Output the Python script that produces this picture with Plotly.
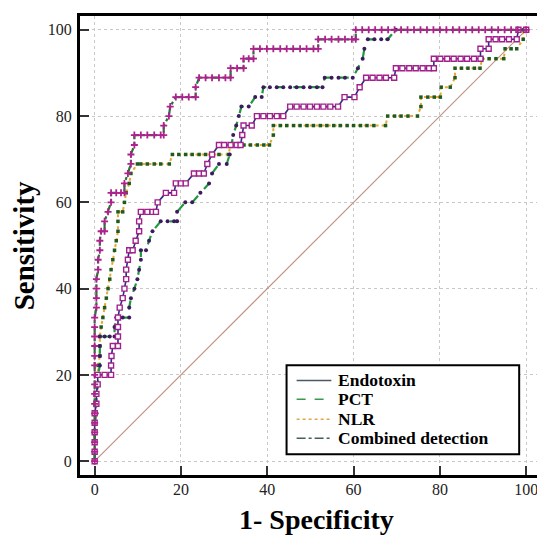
import plotly.graph_objects as go

# ---- data ----
endo_x = [0,0,0,0,0,0,0.4,0.4,0.7,0.7,2.3,3.8,3.8,3.9,4.2,5.4,5.4,5.4,5.4,5.8,6.5,6.9,7.3,7.3,7.7,8.0,8.8,9.5,10.3,10.3,10.7,12.2,13.4,14.2,14.6,16.5,18.4,18.8,20.0,21.1,23.0,24.2,25.3,26.1,27.2,28.8,30.0,31.5,32.9,33.8,34.2,34.5,36.4,37.6,39.1,40.6,42.2,43.7,45.3,46.8,48.4,49.9,51.5,53.0,54.6,56.4,57.9,60.2,61.4,62.9,64.4,66.0,67.5,69.4,69.8,71.3,72.9,74.4,76.0,77.5,78.6,78.6,80.1,81.7,83.2,84.8,86.3,87.9,89.4,89.4,91.3,91.3,92.9,94.4,96.0,97.8,98.2,100]
endo_y = [0,2.2,4.4,6.7,8.9,11.1,13.3,15.6,17.8,20,20,20,22.2,24.4,26.7,26.7,28.9,31.1,33.3,35.6,37.8,40,42.2,44.4,46.7,48.9,48.9,51.1,53.3,55.6,57.8,57.8,57.8,57.8,60,62.2,62.2,64.4,64.4,64.4,66.7,66.7,66.7,68.9,71.1,73.3,73.3,73.3,73.3,73.3,75.6,77.8,77.8,80,80,80,80,80,82.2,82.2,82.2,82.2,82.2,82.2,82.2,82.2,84.4,84.4,86.7,88.9,88.9,88.9,88.9,88.9,91.1,91.1,91.1,91.1,91.1,91.1,91.1,93.3,93.3,93.3,93.3,93.3,93.3,93.3,93.3,95.6,95.6,97.8,97.8,97.8,97.8,97.8,100,100]

pct_x = [0,0,0,0,0,0.4,0.4,0.4,0.8,0.8,1.2,1.2,1.2,1.2,2.3,3.5,4.6,4.6,5.0,6.5,8.0,8.0,8.4,9.2,9.9,10.3,10.7,10.7,11.9,12.6,13.4,15.3,16.9,18.4,19.1,19.1,21.0,22.6,24.5,26.5,27.2,28.8,30.6,31.3,31.7,32.1,32.8,33.4,34.0,35.7,37.2,38.7,39.1,40.6,42.2,43.7,45.3,46.8,48.4,49.9,51.5,52.8,53.3,54.9,56.5,58.0,59.8,61.0,62.1,62.5,63.3,64.8,66.4,67.9,69.8,100]
pct_y = [0,2.2,4.4,6.7,8.9,11.1,13.3,15.6,17.8,20,22.2,24.4,26.7,28.9,28.9,28.9,28.9,31.1,33.3,33.3,33.3,35.6,37.8,40,42.2,44.4,46.7,48.9,48.9,51.1,53.3,55.6,55.6,55.6,55.6,57.8,60,60,62.2,64.4,66.7,68.9,68.9,71.1,73.3,75.6,77.8,80,82.2,82.2,84.4,84.4,86.7,86.7,86.7,86.7,86.7,86.7,86.7,86.7,86.7,86.7,88.9,88.9,88.9,88.9,88.9,91.1,93.3,95.6,97.8,97.8,97.8,97.8,100,100]

nlr_x = [0,0,0,0,0,0.4,0.4,0.4,0.8,0.8,0.8,1.2,1.2,1.2,1.5,1.9,2.3,2.7,3.1,3.5,3.8,4.2,4.6,5.0,5.4,5.4,5.4,6.5,6.9,7.3,8.0,8.4,9.9,10.7,12.2,13.8,15.3,17.3,18.0,19.5,21.1,22.6,24.2,25.7,27.3,28.8,31.0,31.5,33.0,34.6,36.1,37.7,39.2,40.5,41.4,41.4,43.0,44.5,46.1,47.6,49.2,50.7,52.3,53.8,55.4,56.9,58.5,60.0,61.6,63.1,64.7,67.4,67.9,69.5,71.0,72.6,74.8,75.6,75.6,77.2,78.7,80.1,80.3,82.4,83.5,83.5,85.0,86.5,88.0,89.3,89.8,91.4,93.0,94.8,95.1,96.5,97.8,99.3,99.3,100]
nlr_y = [0,2.2,4.4,6.7,8.9,11.1,13.3,15.6,17.8,20,22.2,24.4,26.7,28.9,31.1,33.3,35.6,37.8,40,42.2,44.4,46.7,48.9,51.1,53.3,55.6,57.8,57.8,60,62.2,64.4,66.7,68.9,68.9,68.9,68.9,68.9,68.9,71.1,71.1,71.1,71.1,71.1,71.1,71.1,71.1,71.1,73.3,73.3,73.3,73.3,73.3,73.3,73.3,75.6,77.8,77.8,77.8,77.8,77.8,77.8,77.8,77.8,77.8,77.8,77.8,77.8,77.8,77.8,77.8,77.8,77.8,80,80,80,80,80,82.2,84.4,84.4,84.4,84.4,86.7,86.7,88.9,91.1,91.1,91.1,91.1,91.1,93.3,93.3,93.3,93.3,95.6,95.6,95.6,97.8,100,100]

comb_x = [0,0,0,0,0,0,0,0,0,0,0,0,0,0,0,0,0.4,0.4,0.4,0.4,0.8,0.8,1.2,1.2,1.5,2.3,2.3,3.1,3.8,3.8,5.0,6.1,6.9,6.9,7.7,8.4,8.4,9.2,9.2,10.7,12.2,13.8,15.3,16.0,16.0,17.2,17.5,18.8,20.3,21.8,23.4,23.4,24.2,25.7,27.2,28.8,30.3,31.5,31.5,33.0,34.5,34.5,35.7,36.8,36.8,38.3,39.9,41.4,43.0,44.5,46.0,47.6,49.1,50.7,51.8,51.8,53.4,54.9,56.5,58.0,59.6,60.5,60.5,62.0,63.5,65.0,66.5,68.0,69.5,71.0,72.5,74.0,75.5,77.0,78.5,80.0,81.5,83.0,84.5,86.0,87.5,89.0,90.5,92.0,93.5,95.0,96.5,98.0,100]
comb_y = [0,2.2,4.4,6.7,8.9,11.1,13.3,15.6,17.8,20,22.2,24.4,26.7,28.9,31.1,33.3,35.6,37.8,40,42.2,44.4,46.7,48.9,51.1,53.3,53.3,55.6,57.8,60,62.2,62.2,62.2,62.2,64.4,66.7,68.9,71.1,73.3,75.6,75.6,75.6,75.6,75.6,75.6,77.8,80,82.2,84.4,84.4,84.4,84.4,86.7,88.9,88.9,88.9,88.9,88.9,88.9,91.1,91.1,91.1,93.3,93.3,93.3,95.6,95.6,95.6,95.6,95.6,95.6,95.6,95.6,95.6,95.6,95.6,97.8,97.8,97.8,97.8,97.8,97.8,97.8,100,100,100,100,100,100,100,100,100,100,100,100,100,100,100,100,100,100,100,100,100,100,100,100,100,100,100]

diag_x = [0, 100]
diag_y = [0, 100]

legend_names = ["Endotoxin", "PCT", "NLR", "Combined detection"]
tick_vals = [0, 20, 40, 60, 80, 100]

FONT = "Liberation Serif"

fig = go.Figure()

fig.add_trace(go.Scatter(x=diag_x, y=diag_y, mode="lines",
                         line=dict(color="#c09483", width=1.2), showlegend=False, hoverinfo="skip"))
fig.add_trace(go.Scatter(x=nlr_x, y=nlr_y, mode="lines+markers", name=legend_names[2],
                         line=dict(color="#e8a830", width=2, dash="dot"),
                         marker=dict(symbol="square", size=3.5, color="#1f5a1f"),
                         showlegend=False))
fig.add_trace(go.Scatter(x=pct_x, y=pct_y, mode="lines+markers", name=legend_names[1],
                         line=dict(color="#1e9a3c", width=2.2, dash="dash"),
                         marker=dict(symbol="circle", size=4, color="#3b1a5e"),
                         showlegend=False))
fig.add_trace(go.Scatter(x=endo_x, y=endo_y, mode="lines+markers", name=legend_names[0],
                         line=dict(color="#25307f", width=1.6),
                         marker=dict(symbol="square", size=5, color="white",
                                     line=dict(color="#a3208c", width=1.4)),
                         showlegend=False))
fig.add_trace(go.Scatter(x=comb_x, y=comb_y, mode="lines+markers", name=legend_names[3],
                         line=dict(color="#1d7a30", width=2.2, dash="dashdot"),
                         marker=dict(symbol="cross-thin", size=5, color="#b0208e",
                                     line=dict(color="#b0208e", width=1.8)),
                         showlegend=False))

axis_common = dict(
    tickvals=tick_vals, showgrid=True, gridcolor="#c8c8c8", griddash="dot", gridwidth=1,
    zeroline=False, showline=True, linecolor="black", linewidth=3, mirror=True,
    ticks="inside", ticklen=9, tickwidth=1.5, tickcolor="#333",
    tickfont=dict(family=FONT, size=16, color="#222"),
)

# manual legend (paper coordinates of the plot area)
shapes = [dict(type="rect", xref="paper", yref="paper", x0=0.452, x1=0.961, y0=0.045, y1=0.239,
               line=dict(color="black", width=2), fillcolor="white", layer="above")]
leg_styles = [dict(color="#4a5868", width=1.5, dash="solid"),
              dict(color="#3a9a4a", width=1.5, dash="dash"),
              dict(color="#e0a848", width=1.5, dash="dot"),
              dict(color="#44605a", width=1.5, dash="dashdot")]
rows_py = [380, 399, 419, 438]
annotations = []
for name, st, py in zip(legend_names, leg_styles, rows_py):
    yp = (475 - py) / 461
    shapes.append(dict(type="line", xref="paper", yref="paper", x0=0.474, x1=0.550, y0=yp, y1=yp,
                       line=st, layer="above"))
    annotations.append(dict(xref="paper", yref="paper", x=0.561, y=yp, xanchor="left", yanchor="middle",
                            text="<b>%s</b>" % name, showarrow=False,
                            font=dict(family=FONT, size=17.5, color="black")))

annotations.append(dict(xref="paper", yref="paper", x=0.517, y=(475 - 520) / 461,
                        xanchor="center", yanchor="middle", text="<b>1- Specificity</b>",
                        showarrow=False, font=dict(family=FONT, size=28, color="black")))
annotations.append(dict(xref="paper", yref="paper", x=(24 - 80) / 460, y=(475 - 245) / 461,
                        xanchor="center", yanchor="middle", text="<b>Sensitivity</b>", textangle=-90,
                        showarrow=False, font=dict(family=FONT, size=29, color="black")))

fig.update_layout(
    width=537, height=527,
    margin=dict(l=72, r=5, t=6, b=60),
    paper_bgcolor="white", plot_bgcolor="white",
    xaxis=dict(range=[-3.4, 102.5], ticklabelstandoff=-2, **axis_common),
    yaxis=dict(range=[-3.2, 103.2], ticklabelstandoff=2, **axis_common),
    shapes=shapes, annotations=annotations,
    showlegend=False,
)

fig.write_html("out.html")
